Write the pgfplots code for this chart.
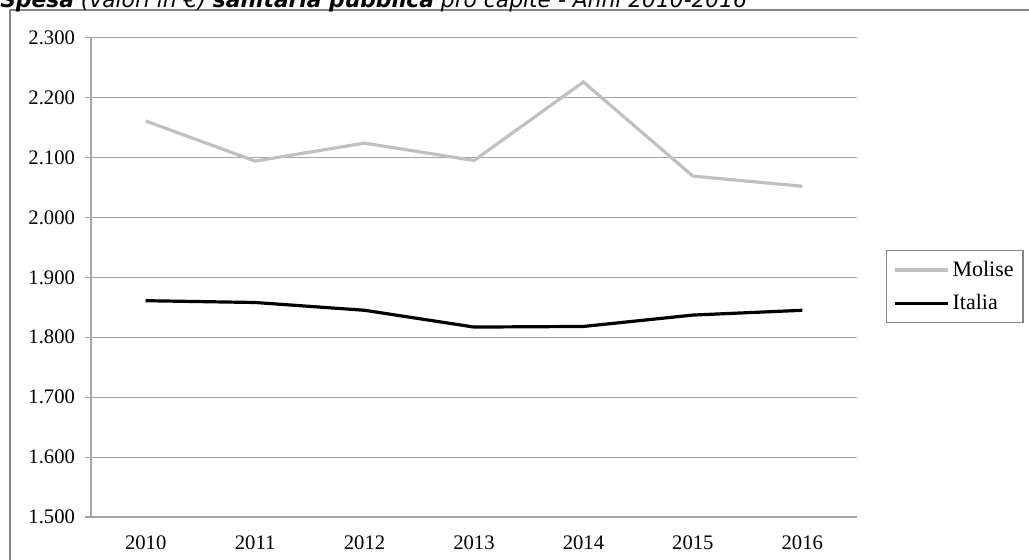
\documentclass[border=0pt]{standalone}
\usepackage{pgfplots}
\pgfplotsset{compat=1.18}
\usepackage{fontspec}
\setmainfont{Liberation Serif}
\newfontfamily\titlefont{DejaVu Sans}
\definecolor{gridc}{RGB}{165,165,165}
\definecolor{molise}{RGB}{192,192,192}
\definecolor{borderc}{RGB}{134,134,134}
\begin{document}
\begin{tikzpicture}[x=0.75pt,y=0.75pt]
% origin = axis south west corner = reference pixel (91,517)
\useasboundingbox (-91,-43) rectangle (938,517);
\clip (-91,-43) rectangle (938,517);
% outer chart border (reference pixel x=10, y=10)
\draw[borderc,line width=0.9pt] (-81,-80) -- (-81,507) -- (960,507);
% title (baseline at reference pixel y=8)
\node[anchor=base west,inner sep=0pt] at (-91,509) {\resizebox{560pt}{!}{\titlefont\textbf{\textit{Spesa}} \textit{(valori in €)} \textbf{\textit{sanitaria pubblica}} \textit{pro capite - Anni 2010-2016}}};
\begin{axis}[
  at={(0,0)}, anchor=south west,
  scale only axis, width=574.5pt, height=359.5pt,
  xmin=-0.5, xmax=6.5, ymin=1500, ymax=2300,
  axis x line*=bottom, axis y line*=left,
  axis line style={gridc, line width=0.8pt, -},
  xtick={0,...,6},
  xticklabels={2010,2011,2012,2013,2014,2015,2016},
  minor xtick={-0.5,0.5,...,6.5},
  x tick style={draw=none},
  minor x tick style={gridc, line width=0.8pt},
  minor tick length=4.5pt,
  ytick={1500,1600,...,2300},
  y tick style={gridc, line width=0.8pt},
  major tick length=4.5pt,
  tick align=outside,
  ymajorgrids, grid style={gridc, line width=0.8pt},
  tick label style={font=\fontsize{15.5pt}{18pt}\selectfont},
  yticklabel style={xshift=-4pt},
  xticklabel style={yshift=-6pt},
  /pgf/number format/.cd, assume math mode=true, 1000 sep={.}, fixed,
  /pgfplots/.cd,
  legend style={at={(1.0379,0.557)}, anchor=north west, draw=borderc, line width=1pt,
    font=\fontsize{16.5pt}{19pt}\selectfont, inner xsep=5pt, inner ysep=6pt,
    row sep=8pt, cells={anchor=west}},
  legend image code/.code={\draw[#1] (0pt,0pt) -- (40pt,0pt);},
]
\addplot[molise, line width=2.4pt] coordinates {(0,2161) (1,2094) (2,2124) (3,2095) (4,2226) (5,2069) (6,2052)};
\addlegendentry{Molise}
\addplot[black, line width=2.4pt] coordinates {(0,1861) (1,1858) (2,1845) (3,1817) (4,1818) (5,1837) (6,1845)};
\addlegendentry{Italia}
\end{axis}
\end{tikzpicture}
\end{document}
